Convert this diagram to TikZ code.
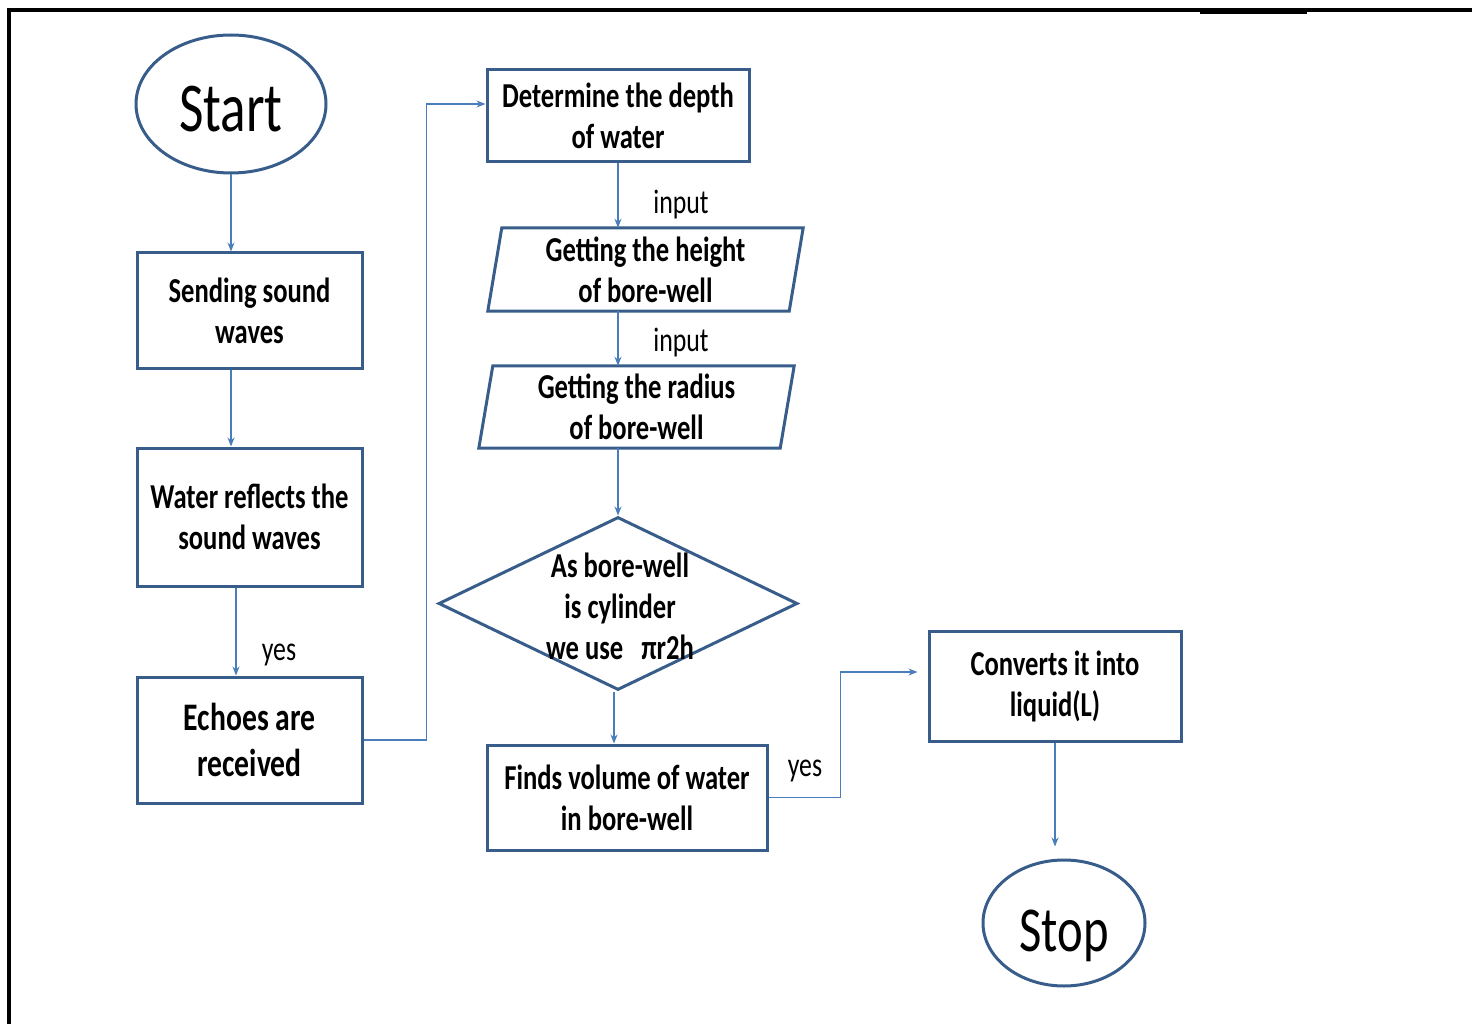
\documentclass[tikz,border=0pt]{standalone}
\usepackage{fontspec}
\setmainfont{Carlito}[FakeStretch=0.76]
\usetikzlibrary{shapes.geometric,arrows.meta,calc}
\definecolor{boxc}{RGB}{56,93,138}
\definecolor{linec}{RGB}{74,126,187}
\begin{document}
\begin{tikzpicture}[x=1pt,y=-1pt,
  box/.style={draw=boxc,line width=3pt,rectangle,align=center,font=\fontsize{35}{41}\selectfont\bfseries,inner sep=0pt},
  ptext/.style={align=center,font=\fontsize{35}{41}\selectfont\bfseries,inner sep=0pt},
  term/.style={ellipse,draw=boxc,line width=3pt,inner sep=0pt},
  outline/.style={draw=boxc,line width=3pt,line join=miter},
  conn/.style={draw=linec,line width=1.4pt,-{Stealth[length=9pt,width=7pt]}},
  lab/.style={font=\fontsize{34}{40}\selectfont,inner sep=0pt}]
\useasboundingbox (0,0) rectangle (1472,1024);
% frame
\draw[line width=4.5pt,line join=miter] (9,1040) -- (9,10) -- (1490,10);
\draw[line width=2pt] (1200,13.5) -- (1307,13.5);

% nodes
\node[term,minimum width=190pt,minimum height=138pt,font=\fontsize{70}{80}\selectfont] (start) at (231,104) {\raisebox{-27.5pt}[0pt][0pt]{Start}};
\node[box,minimum width=225pt,minimum height=115pt] (send) at (249.5,310.5) {Sending sound\\waves};
\node[box,minimum width=225pt,minimum height=138pt] (water) at (249.5,517) {Water reflects the\\sound waves};
\node[box,minimum width=225pt,minimum height=126pt,font=\fontsize{39}{46}\selectfont\bfseries] (echo) at (249.5,740) {Echoes are\\received};
\node[box,minimum width=262pt,minimum height=92pt] (det) at (618,116) {Determine the depth\\of water};

\node[ptext,minimum width=315pt,minimum height=83pt] (ht) at (645.5,269.5) {Getting the height\\of bore-well};
\draw[outline] (ht.south west) -- ([xshift=-14pt]ht.south east) -- (ht.north east) -- ([xshift=14pt]ht.north west) -- cycle;

\node[ptext,minimum width=315pt,minimum height=82pt] (rad) at (636.5,407) {Getting the radius\\of bore-well};
\draw[outline] (rad.south west) -- ([xshift=-14pt]rad.south east) -- (rad.north east) -- ([xshift=14pt]rad.north west) -- cycle;

\node[diamond,draw=boxc,line width=3pt,minimum width=359pt,minimum height=173pt,inner sep=0pt] (dia) at (618,603.5) {};
\node[ptext] (diat) at (620,606) {As bore-well\\is cylinder\\we use\ \ \ πr2h};

\node[box,minimum width=280pt,minimum height=105pt] (fin) at (627,797.5) {Finds volume of water\\in bore-well};
\node[box,minimum width=252pt,minimum height=110pt] (conv) at (1055,686) {Converts it into\\liquid(L)};
\node[term,minimum width=162pt,minimum height=126pt,font=\fontsize{64}{72}\selectfont] (stop) at (1064,923) {\raisebox{-28pt}[0pt][0pt]{Stop}};

% labels
\node[lab] (l1) at (279,655) {yes};
\node[lab] (l2) at (681,205) {input};
\node[lab] (l3) at (681,343) {input};
\node[lab] (l4) at (805,771) {yes};

% connectors
\draw[conn] (start.south) -- (start.south |- send.north);
\draw[conn] ([xshift=-18.5pt]send.south) -- ([xshift=-18.5pt]water.north);
\draw[conn] ([xshift=-13.5pt]water.south) -- ([xshift=-13.5pt]echo.north);
\draw[conn] (echo.east) -- ++(63,0) |- ([yshift=12pt]det.west);
\draw[conn] (det.south) -- (det.south |- ht.north);
\draw[conn] (det.south |- ht.south) -- (det.south |- rad.north);
\draw[conn] (det.south |- rad.south) -- (dia.north);
\draw[conn] ([xshift=-4pt]dia.south) -- ([xshift=-13pt]fin.north);
\draw[conn] (fin.east) -- ++(72,0) |- ([xshift=-10pt,yshift=14pt]conv.west);
\coordinate (stopin) at ([yshift=12pt]stop.north);
\draw[conn] (conv.south) -- (conv.south |- stopin);
\end{tikzpicture}
\end{document}
